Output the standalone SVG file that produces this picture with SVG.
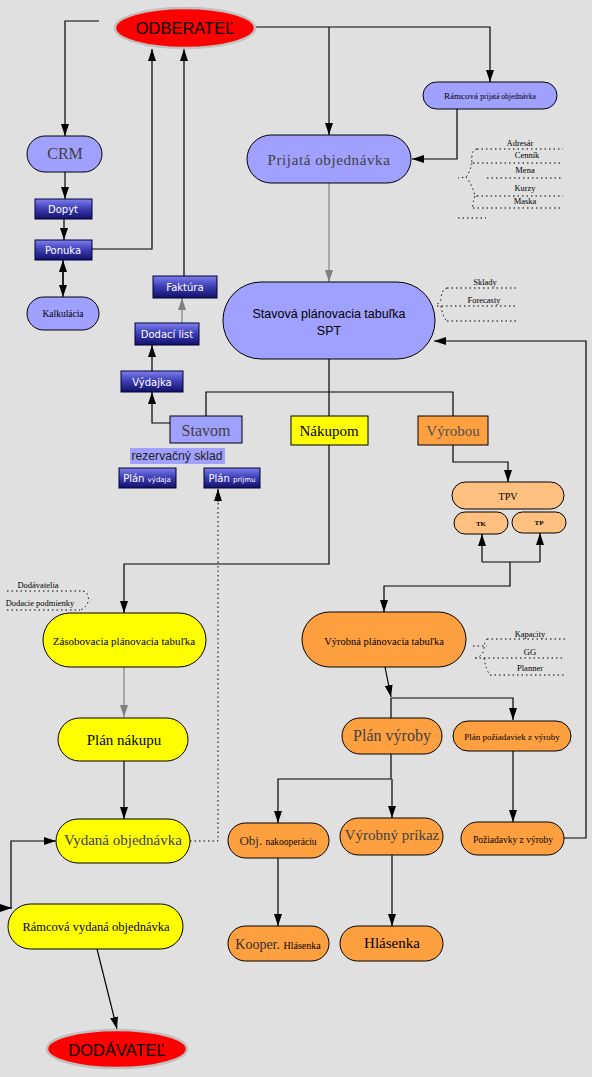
<svg xmlns="http://www.w3.org/2000/svg" width="592" height="1077" viewBox="0 0 592 1077">
<style>
.ln{fill:none;stroke:#000;stroke-width:1.2}
.lg{fill:none;stroke:#808080;stroke-width:1.2}
.dt{fill:none;stroke:#000;stroke-width:1;stroke-dasharray:1.5 3}
.blue{fill:#a0a0ff;stroke:#000;stroke-width:1}
.yel{fill:#ffff00;stroke:#000;stroke-width:1}
.org{fill:#ffa040;stroke:#000;stroke-width:1}
.lor{fill:#ffc080;stroke:#000;stroke-width:1}
.dk{fill:url(#gb);stroke:#000030;stroke-width:1}
.red{fill:#ff0000;stroke:#c0c0c0;stroke-width:2.5}
.se{font-family:"Liberation Serif","Times New Roman",serif;text-anchor:middle}
.sa{font-family:"Liberation Sans",Arial,sans-serif;text-anchor:middle}
.wt{font-family:"DejaVu Sans",Verdana,sans-serif;font-size:10px;fill:#fff;text-anchor:middle}
.nt{font-family:"Liberation Serif","Times New Roman",serif;font-size:8.5px;fill:#000;text-anchor:middle}
.g{fill:#404040}
</style>
<defs>
<linearGradient id="gb" x1="0" y1="0" x2="0" y2="1">
<stop offset="0" stop-color="#8080f0"/>
<stop offset="0.45" stop-color="#4040b8"/>
<stop offset="1" stop-color="#10106a"/>
</linearGradient>
<marker id="a" markerUnits="userSpaceOnUse" viewBox="0 0 12 8" refX="12" refY="4" markerWidth="12" markerHeight="8" orient="auto"><path d="M0,0 L12,4 L0,8 z" fill="#000"/></marker>
<marker id="ag" markerUnits="userSpaceOnUse" viewBox="0 0 12 8" refX="12" refY="4" markerWidth="12" markerHeight="8" orient="auto"><path d="M0,0 L12,4 L0,8 z" fill="#808080"/></marker>
</defs>
<rect x="0" y="0" width="592" height="1077" fill="#e0e0e0"/>

<g id="connectors">
<path class="ln" d="M99,21 H65 V136" marker-end="url(#a)"/>
<path class="ln" d="M255,27 H490 V82" marker-end="url(#a)"/>
<path class="ln" d="M329,27 V135" marker-end="url(#a)"/>
<path class="ln" d="M457,109 V159 H412" marker-end="url(#a)"/>
<path class="lg" d="M329,183 V282" marker-end="url(#ag)"/>
<path class="ln" d="M65,172 V199" marker-end="url(#a)"/>
<path class="ln" d="M64,219 V240" marker-end="url(#a)"/>
<path class="ln" d="M63,272 V297" marker-end="url(#a)"/>
<path class="ln" d="M63,285 V260" marker-end="url(#a)"/>
<path class="ln" d="M92,249 H152 V49" marker-end="url(#a)"/>
<path class="ln" d="M184,276 V49" marker-end="url(#a)"/>
<path class="lg" d="M182,323 V298" marker-end="url(#ag)"/>
<path class="ln" d="M152,371 V345" marker-end="url(#a)"/>
<path class="ln" d="M170,423 H152 V392" marker-end="url(#a)"/>
<path class="ln" d="M329,359 V392 M206,416 V392 H453 V416 M329,392 V416"/>
<path class="ln" d="M329,445 V564 H124 V613" marker-end="url(#a)"/>
<path class="ln" d="M453,445 V462 H508 V482" marker-end="url(#a)"/>
<path class="ln" d="M482,562 V534" marker-end="url(#a)"/>
<path class="ln" d="M540,562 V533" marker-end="url(#a)"/>
<path class="ln" d="M482,562 H540 M510,562 V586 H384 V612" marker-end="url(#a)"/>
<path class="ln" d="M385,667 L391,697" marker-end="url(#a)"/>
<path class="ln" d="M391,698 H513 V720" marker-end="url(#a)"/>
<path class="ln" d="M391,698 V718"/>
<path class="ln" d="M391,754 V779 H278 V823" marker-end="url(#a)"/>
<path class="ln" d="M392,779 V818" marker-end="url(#a)"/>
<path class="ln" d="M513,751 V822" marker-end="url(#a)"/>
<path class="ln" d="M564,838 H586 V341 H434" marker-end="url(#a)"/>
<path class="ln" d="M278,858 V926" marker-end="url(#a)"/>
<path class="ln" d="M392,855 V926" marker-end="url(#a)"/>
<path class="lg" d="M124,667 V717" marker-end="url(#ag)"/>
<path class="ln" d="M124,761 V819" marker-end="url(#a)"/>
<path class="ln" d="M11,908 V841 H56" marker-end="url(#a)"/>
<path class="ln" d="M1,908 H12" marker-end="url(#a)"/>
<path class="ln" d="M97,949 L117,1029" marker-end="url(#a)"/>
<path class="dt" d="M190,841 H218 V500"/>
<path class="ln" d="M218,502 V489" marker-end="url(#a)"/>
</g>

<g id="odberatel"><ellipse class="red" cx="185" cy="28" rx="70" ry="20"/><text class="sa" x="185" y="34" font-size="16.5">ODBERATEĽ</text></g>
<g id="crm"><rect class="blue" x="27" y="136" width="75" height="36" rx="18"/><text class="se g" x="65" y="159" font-size="16">CRM</text></g>
<g id="dopyt"><rect class="dk" x="35" y="199" width="57" height="20"/><text class="wt" x="63" y="213">Dopyt</text></g>
<g id="ponuka"><rect class="dk" x="35" y="240" width="57" height="20"/><text class="wt" x="63" y="254">Ponuka</text></g>
<g id="kalkulacia"><rect class="blue" x="27" y="297" width="72" height="33" rx="16.5"/><text class="se" x="63" y="317" font-size="9.5">Kalkulácia</text></g>
<g id="faktura"><rect class="dk" x="153" y="276" width="64" height="22"/><text class="wt" x="185" y="291" font-size="11">Faktúra</text></g>
<g id="dodaci"><rect class="dk" x="135" y="323" width="64" height="22"/><text class="wt" x="167" y="338" font-size="11">Dodací list</text></g>
<g id="vydajka"><rect class="dk" x="121" y="371" width="62" height="21"/><text class="wt" x="152" y="386" font-size="11">Výdajka</text></g>
<g id="stavom"><rect class="blue" x="170" y="416" width="72" height="27"/><text class="se g" x="206" y="436" font-size="16">Stavom</text></g>
<g id="rezervacny"><rect x="130" y="448" width="95" height="16" fill="#a0a0ff"/><text class="sa" x="177" y="460" font-size="13" fill="#202020" textLength="91" lengthAdjust="spacingAndGlyphs">rezervačný sklad</text></g>
<g id="planvydaja"><rect class="dk" x="119" y="468" width="57" height="20"/><text class="wt" x="147" y="482">Plán <tspan font-size="7">výdaja</tspan></text></g>
<g id="planprijmu"><rect class="dk" x="204" y="468" width="56" height="20"/><text class="wt" x="232" y="482">Plán <tspan font-size="7">príjmu</tspan></text></g>
<g id="ramcovaprijata"><rect class="blue" x="423" y="82" width="134" height="27" rx="13.5"/><text class="se" x="490" y="99" font-size="9">Rámcová <tspan font-size="7.5">prijatá objednávka</tspan></text></g>
<g id="prijata"><rect class="blue" x="247" y="135" width="164" height="48" rx="24"/><text class="se g" x="329" y="165" font-size="15" letter-spacing="0.6">Prijatá objednávka</text></g>
<g id="spt"><rect class="blue" x="223" y="282" width="212" height="77" rx="38"/><text class="sa" x="329" y="318" font-size="12.5">Stavová plánovacia tabuľka</text><text class="sa" x="329" y="335" font-size="12.5">SPT</text></g>
<g id="nakupom"><rect class="yel" x="291" y="416" width="77" height="29"/><text class="se" x="329" y="436" font-size="15">Nákupom</text></g>
<g id="vyrobou"><rect class="org" x="418" y="416" width="70" height="29"/><text class="se" x="453" y="436" font-size="15" fill="#505050">Výrobou</text></g>
<g id="tpv"><rect class="lor" x="452" y="482" width="112" height="27" rx="13.5"/><text class="se" x="508" y="500" font-size="10">TPV</text></g>
<g id="tk"><rect class="lor" x="454" y="512" width="54" height="22" rx="11"/><text class="se" x="481" y="526" font-size="7" font-weight="bold">TK</text></g>
<g id="tp"><rect class="lor" x="512" y="512" width="54" height="21" rx="10.5"/><text class="se" x="539" y="525" font-size="7" font-weight="bold">TP</text></g>
<g id="vyrobnaplan"><rect class="org" x="302" y="612" width="164" height="55" rx="27.5"/><text class="se" x="384" y="645" font-size="10.5">Výrobná plánovacia tabuľka</text></g>
<g id="planvyroby"><rect class="org" x="342" y="718" width="100" height="36" rx="18"/><text class="se g" x="392" y="741" font-size="16">Plán výroby</text></g>
<g id="planpoziadaviek"><rect class="org" x="453" y="721" width="118" height="30" rx="15"/><text class="se" x="512" y="740" font-size="9">Plán požiadaviek z výroby</text></g>
<g id="objnakoop"><rect class="org" x="228" y="823" width="101" height="35" rx="17.5"/><text class="se" x="278" y="845" font-size="13" fill="#303030">Obj. <tspan font-size="9.5" fill="#000">nakooperáciu</tspan></text></g>
<g id="vyrobnyprikaz"><rect class="org" x="340" y="818" width="103" height="37" rx="18.5"/><text class="se g" x="392" y="840" font-size="15">Výrobný príkaz</text></g>
<g id="poziadavky"><rect class="org" x="461" y="822" width="103" height="33" rx="16.5"/><text class="se" x="513" y="843" font-size="9.5">Požiadavky z výroby</text></g>
<g id="kooperhlasenka"><rect class="org" x="228" y="926" width="101" height="35" rx="17.5"/><text class="se" x="278" y="949" font-size="14" fill="#303030">Kooper. <tspan font-size="10" fill="#000">Hlásenka</tspan></text></g>
<g id="hlasenka"><rect class="org" x="340" y="926" width="103" height="35" rx="17.5"/><text class="se" x="392" y="948" font-size="15">Hlásenka</text></g>
<g id="zasobovacia"><rect class="yel" x="43" y="613" width="163" height="54" rx="27"/><text class="se" x="124" y="645" font-size="11">Zásobovacia plánovacia tabuľka</text></g>
<g id="plannakupu"><rect class="yel" x="58" y="718" width="130" height="43" rx="21.5"/><text class="se" x="124" y="745" font-size="15">Plán nákupu</text></g>
<g id="vydana"><rect class="yel" x="56" y="819" width="134" height="44" rx="22"/><text class="se g" x="123" y="845" font-size="15">Vydaná objednávka</text></g>
<g id="ramcovavydana"><rect class="yel" x="8" y="904" width="175" height="45" rx="22.5"/><text class="se" x="96" y="931" font-size="12.5">Rámcová vydaná objednávka</text></g>
<g id="dodavatel"><ellipse class="red" cx="117" cy="1049" rx="70" ry="19"/><text class="sa" x="117" y="1056" font-size="16.5">DODÁVATEĽ</text></g>

<g id="notes-prijata">
<path class="dt" d="M477,149 H563 M473,163 H563 M487,178 H563 M477,196 H563 M473,208 H563"/>
<path class="dt" d="M477,149 Q472,150 472,156 Q471,163 473,163 M472,163 Q470,172 466,177 L458,178 M466,177 Q472,184 475,196 Q476,196 477,196 M475,196 Q472,205 473,208"/>
<path class="dt" d="M458,218 H486"/>
<text class="nt" x="520" y="146">Adresár</text>
<text class="nt" x="527" y="158">Cenník</text>
<text class="nt" x="525" y="173">Mena</text>
<text class="nt" x="525" y="191">Kurzy</text>
<text class="nt" x="525" y="204">Maska</text>
</g>
<g id="notes-spt">
<path class="dt" d="M447,288 H517 M437,306 H517 M447,321 H517"/>
<path class="dt" d="M447,288 Q441,290 441,300 L436,306 M441,306 Q443,318 447,321"/>
<text class="nt" x="485" y="285">Sklady</text>
<text class="nt" x="484" y="303">Forecasty</text>
</g>
<g id="notes-vyrobna">
<path class="dt" d="M487,639 H565 M475,658 H565 M490,675 H565 M473,646 H487"/>
<path class="dt" d="M487,639 Q484,642 484,650 Q482,656 476,658 M484,658 Q486,670 490,675"/>
<text class="nt" x="530" y="637">Kapacity</text>
<text class="nt" x="530" y="655">GG</text>
<text class="nt" x="530" y="671">Planner</text>
</g>
<g id="notes-zasob">
<path class="dt" d="M7,591 H83 M7,610 H80"/>
<path class="dt" d="M83,591 Q88,592 88,598 L92,600 M88,602 Q86,608 80,610"/>
<text class="nt" x="38" y="588">Dodávatelia</text>
<text class="nt" x="40" y="606">Dodacie podmienky</text>
</g>
</svg>
